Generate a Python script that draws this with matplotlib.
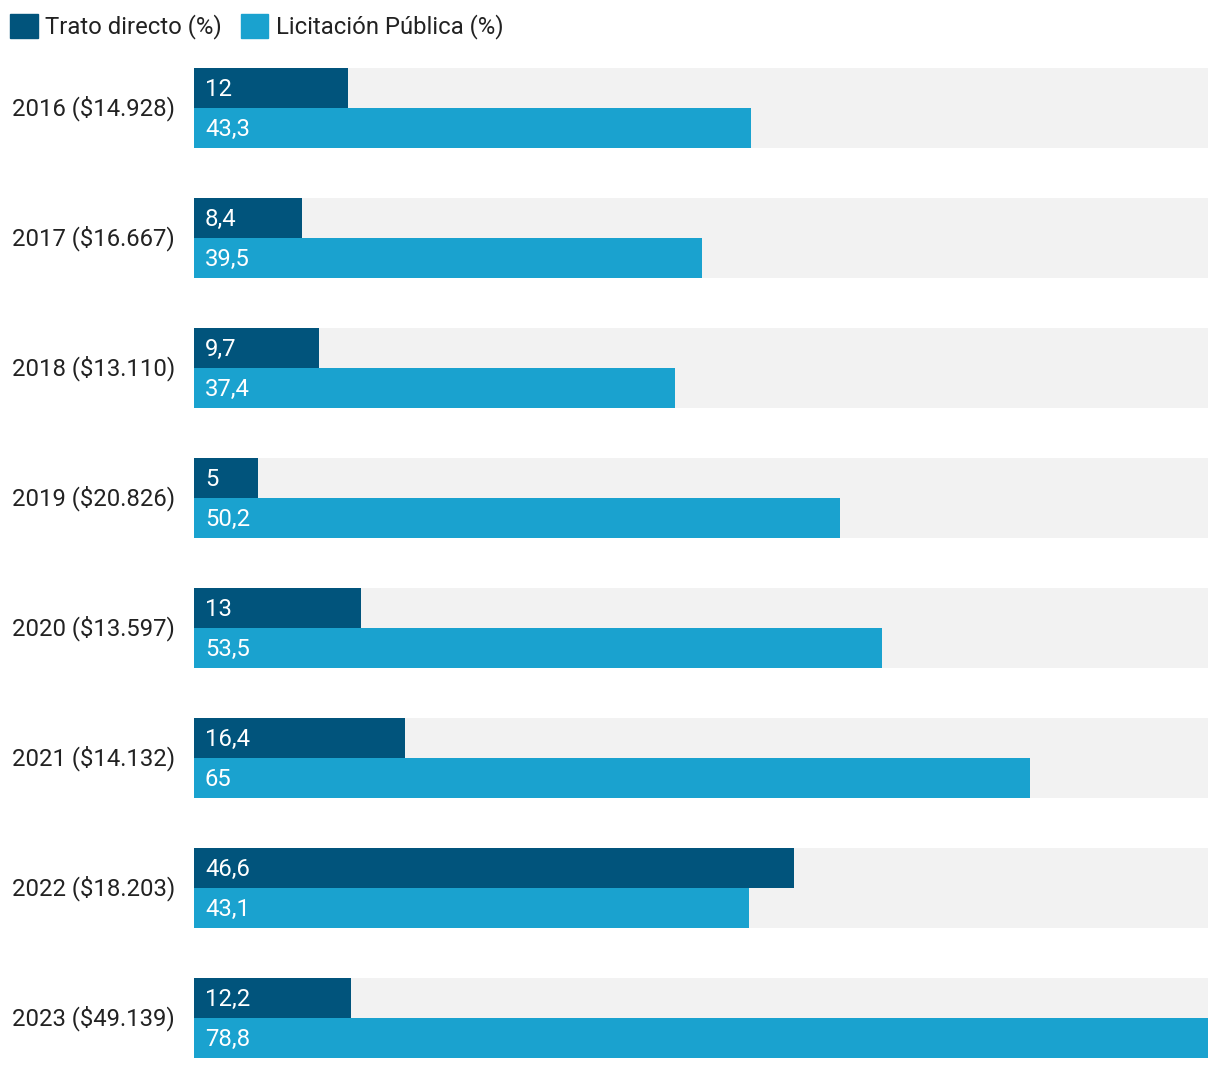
import matplotlib.pyplot as plt
from matplotlib.patches import Patch

plt.rcParams['font.family'] = ['Roboto', 'DejaVu Sans']

# datos
categorias = ['2016 ($14.928)', '2017 ($16.667)', '2018 ($13.110)', '2019 ($20.826)',
              '2020 ($13.597)', '2021 ($14.132)', '2022 ($18.203)', '2023 ($49.139)']
trato_directo = [12, 8.4, 9.7, 5, 13, 16.4, 46.6, 12.2]
licitacion = [43.3, 39.5, 37.4, 50.2, 53.5, 65, 43.1, 78.8]
series = ['Trato directo (%)', 'Licitación Pública (%)']

c_dark = '#01547c'
c_light = '#1aa2cf'
c_bg = '#f2f2f2'
c_text = '#222222'
fs = 17.2

W, H = 1220, 1070
fig = plt.figure(figsize=(W / 100, H / 100), dpi=100)
ax = fig.add_axes([194 / W, 12 / H, 1014 / W, 990 / H])

xmax = max(max(trato_directo), max(licitacion))
step = 130
bh = 40

def fmt(v):
    s = ('%g' % v)
    return s.replace('.', ',')

for i, (cat, td, lp) in enumerate(zip(categorias, trato_directo, licitacion)):
    top = i * step
    ax.barh(top + bh, xmax, height=2 * bh, color=c_bg, align='center', zorder=1)
    ax.barh(top + bh / 2, td, height=bh, color=c_dark, align='center', zorder=2)
    ax.barh(top + 1.5 * bh, lp, height=bh, color=c_light, align='center', zorder=2)
    ax.annotate(fmt(td), (0, top + bh / 2), xytext=(11, -1), textcoords='offset pixels',
                color='white', fontsize=fs, va='center', ha='left', zorder=3)
    ax.annotate(fmt(lp), (0, top + 1.5 * bh), xytext=(11, -1), textcoords='offset pixels',
                color='white', fontsize=fs, va='center', ha='left', zorder=3)
    ax.annotate(cat, (0, top + bh), xytext=(-19, 0), textcoords='offset pixels',
                color=c_text, fontsize=fs, va='center', ha='right', annotation_clip=False)

ax.set_xlim(0, xmax)
ax.set_ylim(7 * step + 2 * bh, 0)
ax.set_axis_off()

handles = [Patch(color=c_dark), Patch(color=c_light)]
fig.legend(handles, series, loc='upper left', bbox_to_anchor=(0, 1 - 4 / H),
           ncol=2, frameon=False, fontsize=fs, handlelength=1.17, handleheight=1.17,
           handletextpad=0.3, columnspacing=0.8, borderaxespad=0, labelcolor=c_text)

fig.savefig('out.png', dpi=100)
